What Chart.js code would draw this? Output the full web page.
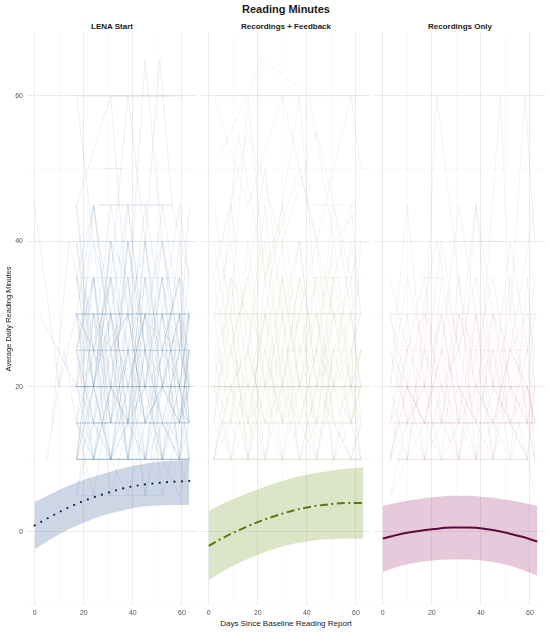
<!DOCTYPE html>
<html>
<head>
<meta charset="utf-8">
<script src="https://cdn.jsdelivr.net/npm/chart.js@4.4.1/dist/chart.umd.min.js"></script>
<style>
  html, body { margin: 0; padding: 0; background: #ffffff; }
  body { width: 550px; height: 633px; position: relative; overflow: hidden;
         font-family: "Liberation Sans", Arial, Helvetica, sans-serif; color: #1a1a1a; }
  canvas { position: absolute; top: 0; }
  .txt { position: absolute; text-align: center; white-space: nowrap; }
</style>
</head>
<body>
<div class="txt" style="left:27px;width:518px;top:2px;line-height:14px;font-size:11px;font-weight:bold;">Reading Minutes</div>
<div class="txt" style="left:27px;width:170px;top:21.5px;line-height:10px;font-size:8px;font-weight:bold;">LENA Start</div>
<div class="txt" style="left:201px;width:170px;top:21.5px;line-height:10px;font-size:8px;font-weight:bold;">Recordings + Feedback</div>
<div class="txt" style="left:375px;width:170px;top:21.5px;line-height:10px;font-size:8px;font-weight:bold;">Recordings Only</div>
<div class="txt" style="left:27px;width:518px;top:618px;line-height:11px;font-size:8px;">Days Since Baseline Reading Report</div>
<canvas id="c1" width="199" height="633" style="left:0px"></canvas>
<canvas id="c2" width="174" height="633" style="left:199px"></canvas>
<canvas id="c3" width="177" height="633" style="left:373px"></canvas>
<script>
// ---- Data ----
const panelNames = ["LENA Start", "Recordings + Feedback", "Recordings Only"];
const xTicks = [0, 10, 20, 30, 40, 50, 60];
const yTicks = [-10, 0, 10, 20, 30, 40, 50, 60];

const fitDays = [0, 7, 14, 21, 28, 35, 42, 49, 56, 63];
const lenaFit = [0.9, 2.2, 3.4, 4.4, 5.2, 5.9, 6.4, 6.7, 6.9, 7.0];
const lenaHi  = [4.1, 5.3, 6.4, 7.3, 8.0, 8.7, 9.2, 9.6, 9.8, 9.9];
const lenaLo  = [-2.4, -0.9, 0.4, 1.4, 2.3, 2.9, 3.4, 3.6, 3.7, 3.7];
const fbFit   = [-1.9, -0.6, 0.5, 1.5, 2.3, 3.0, 3.5, 3.8, 4.0, 4.0];
const fbHi    = [2.9, 4.1, 5.1, 6.0, 6.8, 7.5, 8.0, 8.4, 8.7, 8.9];
const fbLo    = [-6.6, -5.2, -4.0, -3.0, -2.2, -1.6, -1.2, -1.0, -0.9, -1.0];
const recFit  = [-0.9, -0.3, 0.1, 0.4, 0.6, 0.6, 0.4, 0.0, -0.6, -1.3];
const recHi   = [3.6, 4.1, 4.5, 4.8, 5.0, 5.0, 4.8, 4.5, 4.1, 3.6];
const recLo   = [-5.5, -4.7, -4.2, -3.9, -3.8, -3.8, -4.0, -4.4, -5.1, -6.0];

// individual trajectories: [day, minutes, day, minutes, ...]
const lenaLines = [
  [17,10,63,10],[17,10,63,10],[17,10,63,10],[17,10,63,10],[17,10,63,10],[17,10,63,10],
  [17,15,63,15],[17,15,63,15],[17,15,63,15],[17,15,63,15],
  [17,20,63,20],[17,20,63,20],[17,20,63,20],[17,20,63,20],[17,20,63,20],
  [17,25,63,25],[17,25,63,25],[17,25,63,25],
  [17,30,63,30],[17,30,63,30],[17,30,63,30],[17,30,63,30],
  [17,35,58,35],[26,45,56,45],[26,45,56,45],[17,40,63,40],
  [17,60,60,60],[31,60,56,60],[17,5,53,5],[28,50,36,50],
  [17,30,24,15,31,40,38,20,45,30,52,10,59,25,63,20],
  [17,20,24,45,31,25,38,10,45,35,52,20,63,15],
  [17,10,24,25,31,15,38,30,45,15,52,25,59,10,63,20],
  [17,35,24,20,31,30,38,15,45,40,52,20,63,30],
  [17,45,31,60,38,30,45,65,52,40,59,20,63,30],
  [17,15,24,10,31,20,38,15,45,25,52,15,59,10,63,15],
  [17,25,24,35,31,20,38,40,45,20,52,35,59,15,63,25],
  [17,35,24,20,31,10,38,25,45,45,52,30,59,20,63,10],
  [17,20,24,15,31,30,38,10,45,20,52,10,63,20],
  [17,40,24,20,31,35,38,15,45,30,52,25,59,35,63,20],
  [17,10,24,20,31,10,38,15,45,10,52,20,59,15,63,10],
  [17,30,24,25,31,45,38,30,45,40,52,25,59,35,63,30],
  [17,5,24,15,31,10,38,20,45,5,52,15,59,10,63,10],
  [17,25,24,35,31,15,38,40,45,25,52,10,59,20,63,15],
  [17,20,24,30,31,20,38,35,45,15,52,30,59,20,63,25],
  [17,15,24,35,31,15,38,25,45,35,52,10,59,30,63,15],
  [17,25,24,10,31,30,38,20,45,10,52,25,59,20,63,30],
  [17,45,24,25,31,35,38,60,45,40,51,65,56,45,63,35],
  [17,10,24,30,31,25,38,10,45,30,52,20,59,40,63,20],
  [17,35,24,45,31,25,38,30,45,20,52,40,59,25,63,45],
  [17,20,24,20,31,40,38,25,45,15,52,20,59,30,63,10],
  [17,30,24,10,31,20,38,45,45,25,52,15,59,10,63,25],
  [17,15,24,25,31,35,38,15,45,20,52,35,59,15,63,20],
  [17,60,24,40,31,30,38,45,45,25,52,35,59,20,63,30],
  [17,25,24,15,31,25,38,35,45,10,52,25,59,35,63,15],
  [17,10,24,15,31,15,38,25,45,20,52,10,59,20,63,15],
  [17,40,24,25,31,10,38,30,45,15,52,20,59,30,63,25],
  [17,20,24,35,31,10,38,20,45,30,52,15,59,25,63,20],
  [17,30,24,20,31,30,38,10,45,25,52,30,59,10,63,30],
  [17,15,24,10,31,25,38,30,45,15,52,20,59,15,63,25],
  [17,25,24,40,31,20,38,15,45,35,52,25,59,20,63,10],
  [17,10,24,20,31,35,38,25,45,10,52,15,59,25,63,35],
  [17,35,24,30,31,15,38,40,45,25,52,45,59,30,63,20],
  [17,20,24,10,31,20,38,15,45,40,52,20,59,15,63,25],
  [17,45,24,20,31,40,38,35,45,20,52,30,59,45,63,35],
  [17,30,24,45,31,30,38,20,45,30,52,40,59,25,63,30],
  [17,5,24,20,31,10,38,5,45,15,52,10,59,5,63,10],
  [17,15,24,5,31,20,38,10,45,25,52,5,59,15,63,20],
  [17,10,24,30,31,5,38,15,45,10,52,30,59,10,63,5],
  [17,25,24,15,31,10,38,25,45,5,52,20,59,30,63,15],
  [0,45,10,20,17,30,31,20,45,25,63,15],
  [5,10,12,25,17,15,31,10,45,20,63,10],
  [2,30,17,20,38,30,63,25],
  [7,15,14,40,24,25,45,20,63,30]
];

const fbLines = [
  [2,10,62,10],[2,10,62,10],[2,10,62,10],
  [5,15,60,15],[5,15,60,15],
  [2,20,62,20],[2,20,62,20],[2,20,62,20],
  [32,25,59,25],[2,30,62,30],[2,30,62,30],
  [42,35,59,35],[41,45,60,45],[2,60,62,60],
  [2,20,9,35,16,15,23,30,30,10,37,25,44,15,51,30,58,20,62,25],
  [2,10,9,25,16,20,23,10,30,30,37,15,44,25,51,10,58,15,62,20],
  [2,30,9,15,16,40,23,20,30,35,37,20,44,10,51,25,58,35,62,15],
  [5,52,22,65,41,60,51,40,62,45],
  [2,45,9,30,16,60,23,35,30,45,37,60,44,30,51,20,58,40,62,30],
  [2,15,9,10,16,25,23,15,30,20,37,10,44,20,51,15,58,10,62,15],
  [2,25,9,20,16,10,23,35,30,15,37,30,44,40,51,20,58,25,62,10],
  [2,35,9,45,16,25,23,40,30,20,37,35,44,25,51,45,58,30,62,35],
  [2,20,9,15,16,30,23,25,30,15,37,20,44,35,51,15,58,20,62,25],
  [2,10,9,20,16,15,23,10,30,25,37,10,44,15,51,20,58,10,62,10],
  [2,40,9,25,16,35,23,50,30,30,37,40,44,20,51,35,58,45,62,30],
  [2,30,9,40,16,20,23,30,30,45,37,25,44,35,51,30,58,15,62,20],
  [2,15,9,30,16,10,23,20,30,10,37,15,44,10,51,25,58,15,62,10],
  [2,25,9,10,16,20,23,15,30,35,37,20,44,30,51,10,58,25,62,30],
  [2,60,16,45,30,60,44,40,58,60,62,50],
  [2,20,9,25,16,35,23,20,30,25,37,40,44,20,51,25,58,30,62,20],
  [2,35,9,20,16,25,23,45,30,20,37,30,44,15,51,35,58,20,62,40],
  [2,10,9,15,16,20,23,25,30,15,37,25,44,30,51,15,58,10,62,15],
  [5,30,12,55,23,35,37,50,51,30,62,35],
  [2,20,9,10,16,15,23,30,30,20,37,15,44,25,51,20,58,30,62,20],
  [2,15,9,35,16,30,23,10,30,20,37,35,44,10,51,20,58,15,62,25],
  [2,25,9,30,16,10,23,25,30,40,37,20,44,25,51,40,58,20,62,15],
  [5,40,16,55,30,40,44,55,58,35,62,40],
  [2,10,9,20,16,25,23,15,30,10,37,20,44,15,51,10,58,20,62,10],
  [2,30,9,25,16,15,23,20,30,30,37,10,44,20,51,30,58,25,62,30]
];

const recLines = [
  [6,10,59,10],[6,10,59,10],
  [4,15,62,15],[4,15,62,15],[8,15,62,15],
  [4,20,56,20],[4,20,56,20],
  [7,25,20,25],[33,25,60,25],[3,30,62,30],
  [15,35,25,35],[30,40,50,40],
  [3,10,10,20,17,15,24,25,31,10,38,20,45,15,52,10,59,20,62,15],
  [3,20,10,45,17,20,24,30,31,15,38,45,45,20,52,30,59,15,62,20],
  [3,15,10,10,17,25,22,60,31,35,38,20,45,25,52,15,59,10,62,20],
  [3,25,10,15,17,10,24,20,31,25,38,15,48,60,52,30,58,60,62,40],
  [3,10,10,25,17,35,24,15,31,20,38,10,45,30,52,20,59,25,62,10],
  [3,30,10,20,17,15,24,10,31,30,38,25,45,10,52,25,59,30,62,25],
  [3,15,10,30,17,10,24,15,31,10,38,30,45,20,52,15,59,20,62,15],
  [3,5,10,15,17,20,24,10,31,15,38,10,45,15,52,20,59,10,62,5],
  [3,20,10,10,17,30,24,25,31,45,38,30,45,10,52,35,59,15,62,25],
  [3,25,10,20,17,10,24,35,31,20,38,15,45,25,52,10,59,35,62,20],
  [3,10,10,15,17,25,24,20,31,10,38,25,45,35,52,20,59,15,62,10],
  [3,35,10,25,17,20,24,40,31,25,38,35,45,20,52,40,59,25,62,30],
  [3,15,10,20,17,15,24,30,31,15,38,20,45,15,52,25,59,20,62,15],
  [3,20,10,35,17,25,24,15,31,35,38,10,45,20,52,15,59,25,62,35],
  [3,10,10,20,22,40,31,25,38,45,45,30,52,25,62,45],
  [3,5,10,10,17,15,24,25,31,20,38,15,45,10,52,20,59,15,62,10],
  [3,30,10,15,17,20,24,15,31,30,38,20,45,30,52,15,59,10,62,20],
  [3,15,10,25,17,30,24,20,31,15,38,30,45,15,52,25,59,20,62,30]
];

// ---- Build charts ----
function pairs(flat) {
  const out = [];
  for (let i = 0; i < flat.length; i += 2) out.push({ x: flat[i], y: flat[i + 1] });
  return out;
}
function zip(xs, ys) { return xs.map((x, i) => ({ x: x, y: ys[i] })); }

const FONT = '"Liberation Sans", Arial, Helvetica, sans-serif';

function makePanel(id, lines, lineColor, fit, lo, hi, fitStyle, bandColor, first, pad) {
  const datasets = [];
  datasets.push(Object.assign({
    data: zip(fitDays, fit), pointRadius: 0, fill: false,
    cubicInterpolationMode: 'monotone', order: 0
  }, fitStyle));
  datasets.push({
    data: zip(fitDays, lo), pointRadius: 0, borderWidth: 0, borderColor: 'rgba(0,0,0,0)',
    fill: false, cubicInterpolationMode: 'monotone', order: 1
  });
  datasets.push({
    data: zip(fitDays, hi), pointRadius: 0, borderWidth: 0, borderColor: 'rgba(0,0,0,0)',
    backgroundColor: bandColor, fill: '-1', cubicInterpolationMode: 'monotone', order: 1
  });
  lines.forEach(l => datasets.push({
    data: pairs(l), pointRadius: 0, borderWidth: 0.6, borderColor: lineColor,
    fill: false, tension: 0, order: 2
  }));

  const gridColor = ctx => {
    const v = ctx.tick ? ctx.tick.value : 0;
    return (v % 20 === 0) ? '#e9e9e9' : '#f3f3f3';
  };
  const gridWidth = ctx => {
    const v = ctx.tick ? ctx.tick.value : 0;
    return (v % 20 === 0) ? 0.9 : 0.5;
  };

  return new Chart(document.getElementById(id), {
    type: 'line',
    data: { datasets: datasets },
    options: {
      responsive: false, animation: false, devicePixelRatio: 1,
      layout: { padding: { top: 33, bottom: 0, left: pad[0], right: pad[1] } },
      plugins: { legend: { display: false }, tooltip: { enabled: false }, title: { display: false } },
      elements: { line: { borderJoinStyle: 'round' } },
      scales: {
        x: {
          type: 'linear', min: -3.15, max: 66.15,
          afterBuildTicks: s => { s.ticks = xTicks.map(v => ({ value: v })); },
          afterFit: s => { s.height = 28; },
          border: { display: false },
          grid: { color: gridColor, lineWidth: gridWidth, drawTicks: false },
          ticks: {
            autoSkip: false, maxRotation: 0, padding: 4, color: '#555555',
            font: { family: FONT, size: 7 },
            callback: v => (v % 20 === 0 ? String(v) : '')
          }
        },
        y: {
          type: 'linear', min: -10.05, max: 68.67,
          afterBuildTicks: s => { s.ticks = yTicks.map(v => ({ value: v })); },
          afterFit: s => { s.width = first ? 27 : 0; },
          border: { display: false },
          grid: { color: gridColor, lineWidth: gridWidth, drawTicks: false },
          ticks: {
            display: first, autoSkip: false, padding: 4, color: '#555555',
            font: { family: FONT, size: 7 },
            callback: v => (v % 20 === 0 ? String(v) : '')
          },
          title: {
            display: first, text: 'Average Daily Reading Minutes', color: '#1a1a1a',
            font: { family: FONT, size: 7.5 }, padding: { top: 4, bottom: 0 }
          }
        }
      }
    }
  });
}

makePanel('c1', lenaLines, 'rgba(55,100,150,0.17)', lenaFit, lenaLo, lenaHi,
  { borderColor: '#0f1f4b', borderWidth: 2.2, borderDash: [0, 7.4], borderCapStyle: 'round' },
  'rgba(88,118,165,0.30)', true, [0, 2]);
makePanel('c2', fbLines, 'rgba(140,160,80,0.16)', fbFit, fbLo, fbHi,
  { borderColor: '#577a0c', borderWidth: 2, borderDash: [8, 3.5, 2, 3.5], borderCapStyle: 'butt' },
  'rgba(142,168,72,0.30)', false, [2, 2]);
makePanel('c3', recLines, 'rgba(170,80,120,0.14)', recFit, recLo, recHi,
  { borderColor: '#5e0b3b', borderWidth: 2 },
  'rgba(172,78,135,0.30)', false, [2, 5]);
</script>
</body>
</html>
